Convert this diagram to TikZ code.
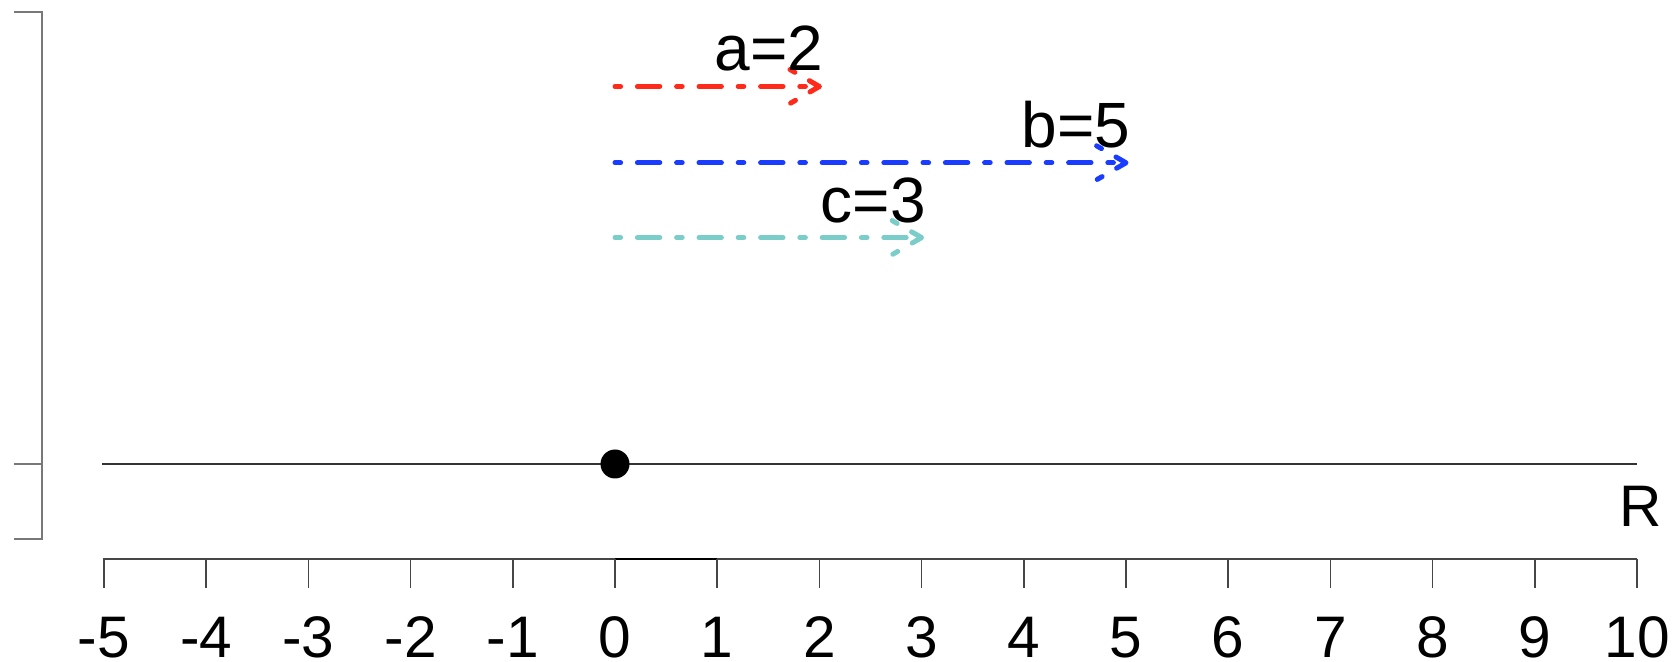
\documentclass[tikz,border=0pt]{standalone}
\usepackage{fontspec}
\setmainfont{Liberation Sans}
\usetikzlibrary{calc}
\definecolor{vred}{RGB}{255,42,26}
\definecolor{vblue}{RGB}{26,60,255}
\definecolor{vcyan}{RGB}{122,205,200}
\definecolor{brkgray}{RGB}{120,120,120}
\definecolor{axgray}{RGB}{70,70,70}
\begin{document}
\begin{tikzpicture}[x=0.5pt,y=-0.5pt,
  lbl/.style={font=\fontsize{29.3pt}{34pt}\selectfont, inner sep=0pt, outer sep=0pt},
  vlbl/.style={font=\fontsize{32pt}{36pt}\selectfont, inner sep=0pt, outer sep=0pt},
  dd/.style={line width=2.5pt, line cap=round, dash pattern=on 2.8pt off 8.4pt on 11.2pt off 8.4pt},
  brk/.style={draw=brkgray, line width=1pt},
  axisline/.style={draw=axgray, line width=1pt},
  tickline/.style={draw=axgray, line width=0.8pt},
  dotnode/.style={circle, fill=black, minimum size=14.5pt, inner sep=0pt}]
\useasboundingbox (0,0) rectangle (1677,662);

% left bracket
\draw[brk] (14,11.7) -- (42.3,11.7) -- (42.3,539.3) -- (14,539.3);
\draw[brk] (14,464) -- (42.3,464);

% real line with origin dot
\coordinate (L0) at (102,464);
\coordinate (L1) at (1637.2,464);
\draw[draw=black!80, line width=1.3pt] (L0) -- (L1);
\node[dotnode] (o) at (615,464) {};
\node[lbl, anchor=base east] (R) at (1662,527) {R};

% axis
\coordinate (A0) at (103,559);
\coordinate (A1) at (1637,559);
\draw[axisline] (A0) -- (A1);
\draw[draw=black, line width=1.3pt] (615,559) -- (717.2,559);
\foreach \v in {-5,...,10}{
  \draw[tickline] ({615+102.2*\v},559) -- ({615+102.2*\v},588);
  \node[lbl, anchor=base] (t\v) at ({615+102.2*\v},657) {\v};
}

% vectors
\foreach \nm/\val/\yy/\col/\txt in {a/2/86.5/vred/a=2, b/5/162.8/vblue/b=5, c/3/237.6/vcyan/c=3}{
  \coordinate (\nm0) at (615,\yy);
  \coordinate (\nm1) at ({615+102.2*\val},\yy);
  \draw[dd, draw=\col] (\nm0) -- (\nm1);
  \draw[dd, draw=\col, line join=round] ($(\nm1)+(-29.4,-17)$) -- (\nm1) -- ($(\nm1)+(-29.4,17)$);
  \node[vlbl, anchor=base east] (lab\nm) at ($(\nm1)+(4,-15.5)$) {\txt};
}
\end{tikzpicture}
\end{document}
